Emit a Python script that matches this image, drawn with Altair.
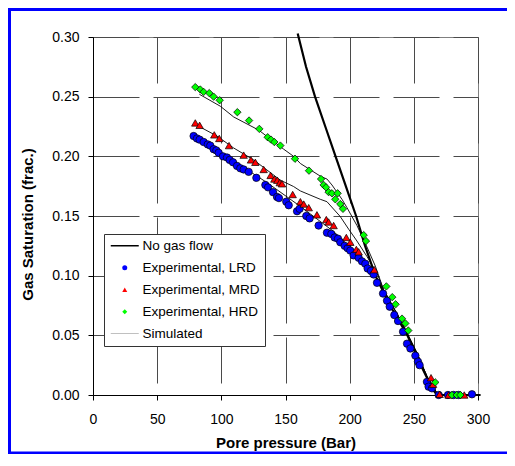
import altair as alt
import pandas as pd

# ---------------- data ----------------
lrd_p = [78.4, 81.0, 83.1, 86.2, 89.4, 91.4, 94.0, 96.1, 97.9, 101.3, 104.4, 106.5, 109.1, 112.2,
         114.8, 117.4, 121.3, 127.3, 134.3, 136.4, 140.3, 143.4, 144.9, 150.6, 152.5, 159.0, 161.0,
         166.2, 168.8, 175.8, 182.3, 185.7, 188.3, 190.9, 192.7, 196.1, 198.4, 200.5, 203.1, 207.0,
         209.6, 212.2, 214.0, 216.6, 218.7, 221.3, 226.0, 229.1, 231.2, 234.8, 237.7, 241.6, 244.7,
         247.3, 251.2, 253.2, 254.5, 260.2, 261.5, 264.1, 269.4, 276.6, 281.0, 284.9, 295.3]
lrd_s = [0.217, 0.215, 0.214, 0.212, 0.210, 0.209, 0.206, 0.205, 0.203, 0.200, 0.199, 0.197, 0.195, 0.192,
         0.190, 0.189, 0.187, 0.182, 0.176, 0.174, 0.170, 0.166, 0.165, 0.162, 0.159, 0.154, 0.156,
         0.150, 0.148, 0.142, 0.136, 0.135, 0.132, 0.131, 0.128, 0.125, 0.123, 0.121, 0.117, 0.115,
         0.112, 0.110, 0.106, 0.104, 0.101, 0.094, 0.085, 0.079, 0.074, 0.067, 0.062, 0.053, 0.043,
         0.039, 0.033, 0.028, 0.025, 0.011, 0.007, 0.0056, 0.0, 0.0, 0.0, 0.0, 0.0006]

mrd_p = [79.7, 83.1, 94.5, 98.4, 106.0, 117.4, 123.1, 126.5, 133.0, 138.4, 141.3, 143.6, 145.5, 147.3,
         155.6, 161.6, 164.2, 168.1, 174.5, 181.8, 183.6, 187.5, 197.4, 200.5, 205.2, 207.0, 219.2,
         263.4, 265.0, 270.1, 277.1, 289.3]
mrd_s = [0.228, 0.226, 0.218, 0.215, 0.209, 0.201, 0.197, 0.195, 0.189, 0.184, 0.181, 0.180, 0.178, 0.177,
         0.168, 0.162, 0.160, 0.157, 0.151, 0.147, 0.145, 0.142, 0.132, 0.128, 0.122, 0.120, 0.105,
         0.0145, 0.009, 0.0006, 0.0, 0.0]

hrd_p = [79.7, 83.6, 86.2, 90.6, 94.0, 98.7, 112.5, 121.6, 129.6, 136.1, 138.7, 141.3, 146.0, 157.4,
         168.3, 177.7, 179.7, 181.6, 183.6, 186.2, 190.6, 188.8, 192.7, 194.8, 210.9, 212.7, 228.6,
         233.2, 235.8, 240.8, 243.4, 245.7, 266.7, 279.7, 283.4, 286.2]
hrd_s = [0.258, 0.256, 0.254, 0.253, 0.250, 0.247, 0.237, 0.230, 0.223, 0.216, 0.214, 0.212, 0.209, 0.198,
         0.188, 0.181, 0.176, 0.174, 0.170, 0.169, 0.169, 0.164, 0.160, 0.156, 0.134, 0.129, 0.091,
         0.082, 0.076, 0.064, 0.060, 0.054, 0.0106, 0.0, 0.0, 0.0]

ngf_p = [159.5, 166.0, 173.0, 181.0, 189.0, 197.0, 205.0, 212.0, 220.0, 231.5, 245.0, 255.5, 264.5, 268.0, 302.0]
ngf_s = [0.303, 0.275, 0.250, 0.225, 0.200, 0.175, 0.150, 0.125, 0.100, 0.075, 0.050, 0.025, 0.005, 0.0, 0.0]

sim_hrd_p = [82.9, 99.2, 109.6, 129.1, 148.6, 156.3, 161.6, 177.7, 182.3, 186.2, 194.0, 197.9, 205.7,
             213.5, 220.0, 226.5, 239.5, 252.5, 260.3, 268.1, 270.6]
sim_hrd_s = [0.252, 0.242, 0.233, 0.222, 0.206, 0.200, 0.194, 0.183, 0.181, 0.176, 0.164, 0.157, 0.142,
             0.124, 0.108, 0.088, 0.063, 0.035, 0.0154, 0.0014, 0.0]
sim_mrd_p = [81.0, 96.6, 109.6, 125.2, 146.0, 156.3, 161.6, 177.1, 182.3, 192.7, 199.2, 205.7, 213.5,
             221.3, 226.5, 239.5, 252.5, 260.3, 268.1, 270.6]
sim_mrd_s = [0.226, 0.217, 0.207, 0.197, 0.180, 0.1747, 0.171, 0.164, 0.162, 0.1495, 0.139, 0.129, 0.116,
             0.102, 0.088, 0.063, 0.035, 0.0154, 0.0014, 0.0]
sim_lrd_p = [79.7, 109.6, 135.6, 161.6, 187.5, 203.1, 213.5, 221.3, 226.5, 239.5, 252.5, 260.3, 268.1, 270.6]
sim_lrd_s = [0.216, 0.196, 0.178, 0.158, 0.137, 0.121, 0.109, 0.098, 0.088, 0.063, 0.035, 0.0154, 0.0014, 0.0]

legend_labels = ["No gas flow", "Experimental, LRD", "Experimental, MRD", "Experimental, HRD", "Simulated"]
x_ticks = [0, 50, 100, 150, 200, 250, 300]
y_ticks = [0.0, 0.05, 0.10, 0.15, 0.20, 0.25, 0.30]

# ---------------- tables ----------------
pts_df = pd.concat([
    pd.DataFrame({"p": lrd_p, "s": lrd_s, "series": legend_labels[1]}),
    pd.DataFrame({"p": mrd_p, "s": mrd_s, "series": legend_labels[2]}),
    pd.DataFrame({"p": hrd_p, "s": hrd_s, "series": legend_labels[3]}),
], ignore_index=True)

sim_df = pd.concat([
    pd.DataFrame({"p": sim_lrd_p, "s": sim_lrd_s, "curve": "LRD"}),
    pd.DataFrame({"p": sim_mrd_p, "s": sim_mrd_s, "curve": "MRD"}),
    pd.DataFrame({"p": sim_hrd_p, "s": sim_hrd_s, "curve": "HRD"}),
], ignore_index=True)

ngf_df = pd.DataFrame({"p": ngf_p, "s": ngf_s})

FONT = "Liberation Sans"
W, H = 385, 358
PL, PT, PR, PB = 85, 29, 29, 59

x_enc = alt.X("p:Q", scale=alt.Scale(domain=[0, 300], nice=False),
              axis=alt.Axis(values=x_ticks, title="Pore pressure (Bar)", format="d",
                            labelFlush=False, labelPadding=12,
                            titleY=47, titleBaseline="middle"))
y_enc = alt.Y("s:Q", scale=alt.Scale(domain=[0, 0.30], nice=False),
              axis=alt.Axis(values=y_ticks, title="Gas Saturation (frac.)", format=".2f",
                            labelFlush=False, labelPadding=9,
                            titleX=-66, titleY=H / 2 + 8, titleAngle=270,
                            titleBaseline="middle", titleAlign="center"))

shape_range = ["M-5.6,-0.3L5.6,-0.3L5.6,0.3L-5.6,0.3Z", "circle", "triangle-up", "diamond",
               "M-5.6,-0.05L5.6,-0.05L5.6,0.05L-5.6,0.05Z"]
fill_range = ["black", "#0000ff", "#ff0000", "#00ff00", "black"]

legend = alt.Legend(title=None, orient="none", legendX=11, legendY=197,
                    padding=5, rowPadding=7, symbolOffset=9, labelOffset=11,
                    labelFont=FONT, labelFontSize=13.5, labelColor="black",
                    strokeColor="#333333", fillColor="white",
                    symbolSize=25, symbolStrokeColor="black", symbolStrokeWidth=0.7,
                    symbolOpacity=1, labelLimit=200)

frame_df = pd.DataFrame({"k": [0]})
blue = "#0000ff"
frame_top = alt.Chart(frame_df).mark_rule(color=blue, strokeWidth=3).encode(
    x=alt.value(-PL), x2=alt.value(W + PR), y=alt.value(-PT + 1.5))
frame_left = alt.Chart(frame_df).mark_rule(color=blue, strokeWidth=3).encode(
    x=alt.value(-PL + 1.5), y=alt.value(-PT), y2=alt.value(H + PB))
frame_bottom = alt.Chart(frame_df).mark_rule(color=blue, strokeWidth=2.5).encode(
    x=alt.value(-PL), x2=alt.value(W + PR), y=alt.value(H + PB - 1.25))

sim = alt.Chart(sim_df).mark_line(color="black", strokeWidth=0.9).encode(
    x=x_enc, y=y_enc, detail="curve:N")

ngf = alt.Chart(ngf_df).mark_line(color="black", strokeWidth=2.2).encode(x=x_enc, y=y_enc)

pts = alt.Chart(pts_df).mark_point(filled=True, strokeWidth=0.7, size=55, opacity=1).encode(
    x=x_enc, y=y_enc,
    shape=alt.Shape("series:N", scale=alt.Scale(domain=legend_labels, range=shape_range), legend=legend),
    fill=alt.Fill("series:N", scale=alt.Scale(domain=legend_labels, range=fill_range), legend=legend),
    stroke=alt.value("black"),
)

chart = alt.layer(sim, ngf, pts, frame_top, frame_left, frame_bottom).properties(
    width=W, height=H,
    autosize=alt.AutoSizeParams(type="none"),
    padding={"left": PL, "top": PT, "right": PR, "bottom": PB},
    background="white",
).configure_view(
    stroke="#808080", strokeWidth=1
).configure_axis(
    labelFont=FONT, labelFontSize=14, labelColor="black",
    titleFont=FONT, titleFontSize=15, titleFontWeight="bold", titleColor="black",
    domainColor="black", domainWidth=1, tickColor="black", tickSize=5, tickWidth=1,
    grid=True, gridColor="#4a4a4a", gridWidth=1, gridDash=[46, 14],
)

chart.save("out.html", embed_options={"renderer": "svg", "actions": False})
